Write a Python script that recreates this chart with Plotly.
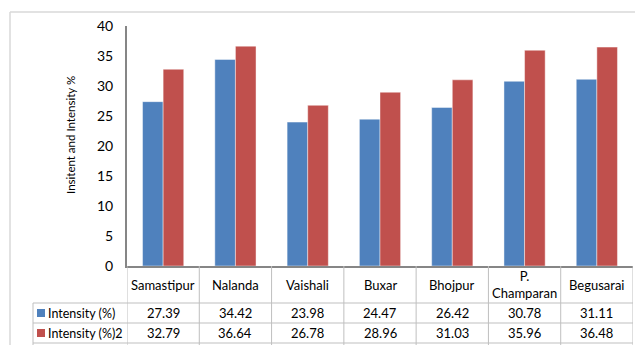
import plotly.graph_objects as go

# District-wise intensity values
districts = ["Samastipur", "Nalanda", "Vaishali", "Buxar", "Bhojpur", "P.<br>Champaran", "Begusarai"]
intensity_1 = [27.39, 34.42, 23.98, 24.47, 26.42, 30.78, 31.11]
intensity_2 = [32.79, 36.64, 26.78, 28.96, 31.03, 35.96, 36.48]
series_names = ["Intensity (%)", "Intensity (%)2"]
series_colors = ["#4F81BD", "#C0504D"]
y_ticks = [0, 5, 10, 15, 20, 25, 30, 35, 40]

W, H = 635, 345
M_L, M_R, M_T, M_B = 127, 2, 26, 79
PW = W - M_L - M_R
PH = H - M_T - M_B

FONT = "Lato, Open Sans, sans-serif"
GRID = "#BFBFBF"
TXT = 13


def px_x(px):
    return (px - M_L) / PW


def px_y(py):
    return (H - M_B - py) / PH


x_idx = list(range(len(districts)))

fig = go.Figure()
for vals, name, col in zip([intensity_1, intensity_2], series_names, series_colors):
    fig.add_trace(go.Bar(
        x=x_idx, y=vals, name=name,
        marker=dict(color=col, line=dict(color="rgba(255,255,255,0.55)", width=0.8)),
        showlegend=False,
    ))

shapes = []
annotations = []

# outer chart frame (top and left edges)
shapes.append(dict(type="line", xref="paper", yref="paper",
                   x0=px_x(10), x1=px_x(636), y0=px_y(12), y1=px_y(12),
                   line=dict(color="#D9D9D9", width=1.5)))
shapes.append(dict(type="line", xref="paper", yref="paper",
                   x0=px_x(10), x1=px_x(10), y0=px_y(12), y1=px_y(346),
                   line=dict(color="#D9D9D9", width=1.5)))

# data table grid: vertical separators between categories
n = len(districts)
for i in range(n + 1):
    shapes.append(dict(type="line", xref="x", yref="paper",
                       x0=i - 0.5, x1=i - 0.5, y0=0, y1=px_y(346),
                       line=dict(color=GRID, width=1)))
# data table grid: horizontal row lines and left edge of the series column
for py in [303, 323, 343]:
    shapes.append(dict(type="line", xref="paper", yref="paper",
                       x0=px_x(33), x1=1, y0=px_y(py), y1=px_y(py),
                       line=dict(color=GRID, width=1)))
shapes.append(dict(type="line", xref="paper", yref="paper",
                   x0=px_x(33), x1=px_x(33), y0=px_y(303), y1=px_y(346),
                   line=dict(color=GRID, width=1)))

# category header row
for i, d in enumerate(districts):
    annotations.append(dict(x=i, xref="x", y=px_y(284.5), yref="paper",
                            text=d, showarrow=False, xanchor="center", yanchor="middle",
                            font=dict(family=FONT, size=TXT, color="#000000")))

# series rows: legend key, name and values
for r, (vals, name, col) in enumerate(zip([intensity_1, intensity_2], series_names, series_colors)):
    cy = 313 + r * 20
    shapes.append(dict(type="rect", xref="paper", yref="paper",
                       x0=px_x(37), x1=px_x(45), y0=px_y(cy - 4), y1=px_y(cy + 4),
                       fillcolor=col, line=dict(width=0)))
    annotations.append(dict(x=px_x(46), xref="paper", y=px_y(cy), yref="paper",
                            text=name, showarrow=False, xanchor="left", yanchor="middle",
                            font=dict(family=FONT, size=12.5, color="#000000")))
    for i, v in enumerate(vals):
        annotations.append(dict(x=i, xref="x", y=px_y(cy), yref="paper",
                                text=f"{v:.2f}", showarrow=False, xanchor="center", yanchor="middle",
                                font=dict(family=FONT, size=TXT, color="#000000")))

# y-axis title
annotations.append(dict(x=px_x(70), xref="paper", y=px_y(135), yref="paper",
                        text="Insitent and Intensity %", textangle=-90, showarrow=False,
                        xanchor="center", yanchor="middle",
                        font=dict(family=FONT, size=11.5, color="#000000")))

fig.update_layout(
    width=W, height=H,
    margin=dict(l=M_L, r=M_R, t=M_T, b=M_B),
    paper_bgcolor="white", plot_bgcolor="white",
    barmode="group", bargap=0.43, bargroupgap=0,
    shapes=shapes, annotations=annotations,
    font=dict(family=FONT, size=TXT, color="#000000"),
)
fig.update_xaxes(range=[-0.5, n - 0.5], showticklabels=False, showgrid=False,
                 showline=True, linecolor="#868686", linewidth=2, zeroline=False, ticks="")
fig.update_yaxes(range=[0, 40], tickvals=y_ticks, showgrid=False, zeroline=False,
                 showline=True, linecolor="#868686", linewidth=2, ticks="",
                 ticklabelstandoff=9, tickfont=dict(family=FONT, size=14, color="#000000"))

fig.write_html("out.html")
